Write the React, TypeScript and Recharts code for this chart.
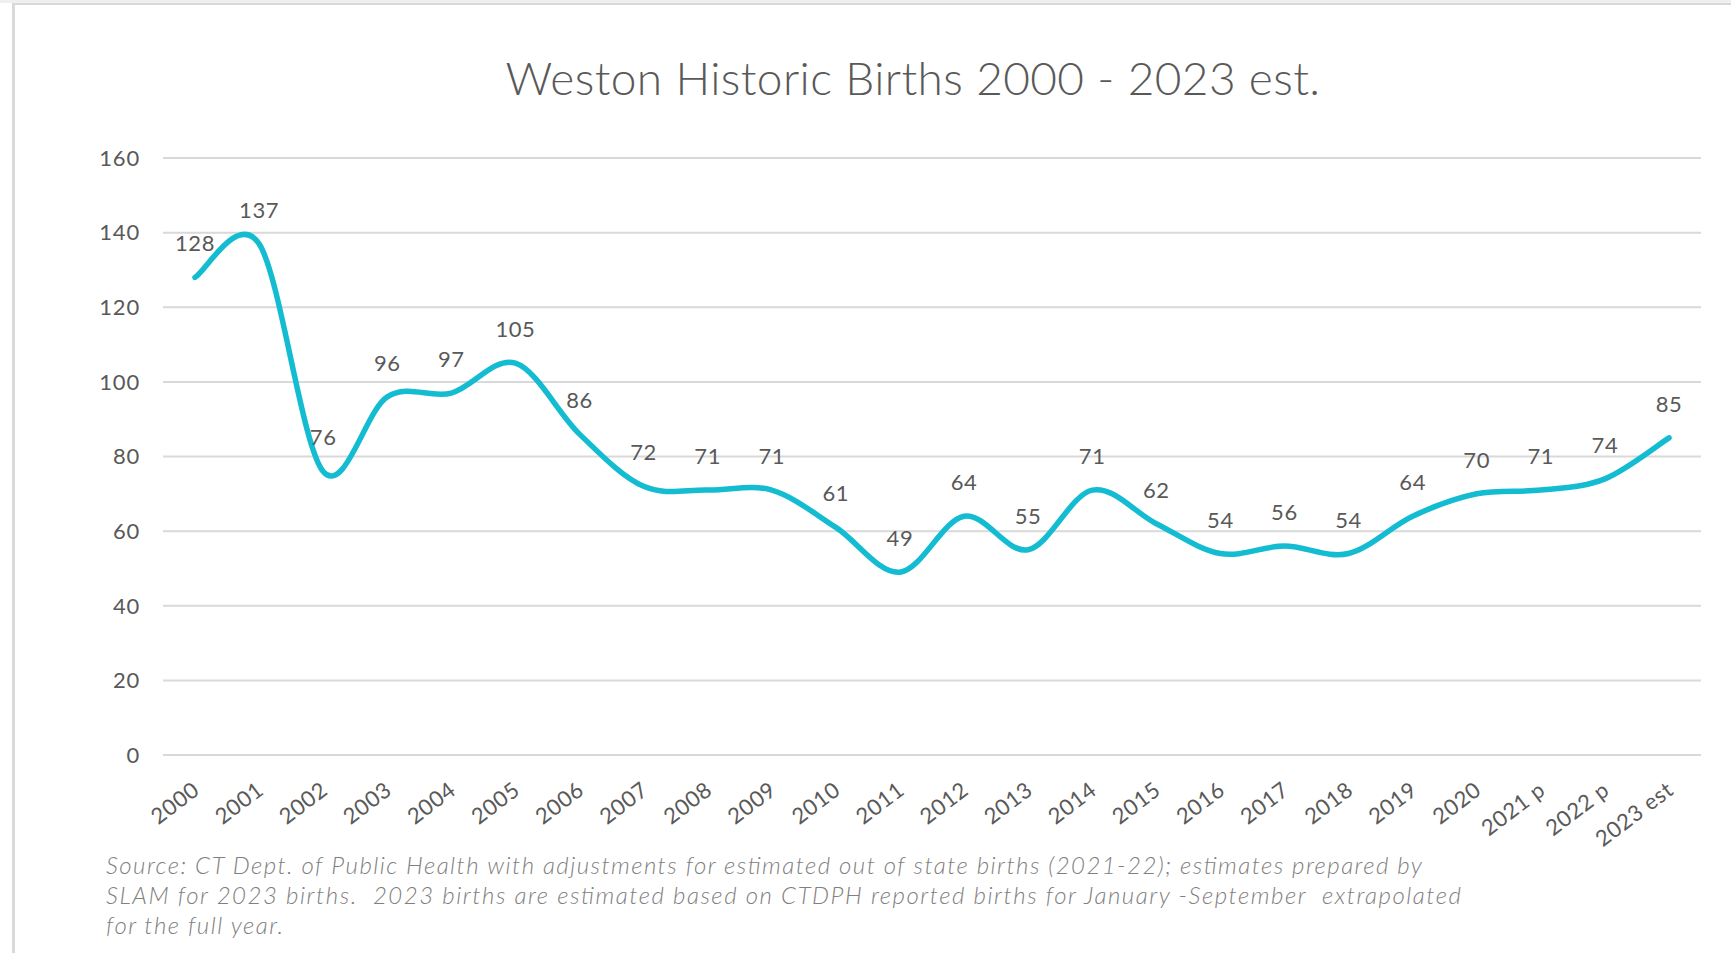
import { LineChart, Line, XAxis, YAxis, CartesianGrid, LabelList } from 'recharts'

const years = [
  '2000', '2001', '2002', '2003', '2004', '2005', '2006', '2007', '2008', '2009', '2010', '2011',
  '2012', '2013', '2014', '2015', '2016', '2017', '2018', '2019', '2020', '2021 p', '2022 p', '2023 est'
]
const births = [128, 137, 76, 96, 97, 105, 86, 72, 71, 71, 61, 49, 64, 55, 71, 62, 54, 56, 54, 64, 70, 71, 74, 85]
const yTicks = [0, 20, 40, 60, 80, 100, 120, 140, 160]

const title = 'Weston Historic Births 2000 - 2023 est.'
const sourceLines = [
  'Source: CT Dept. of Public Health with adjustments for estimated out of state births (2021-22); estimates prepared by',
  'SLAM for 2023 births.  2023 births are estimated based on CTDPH reported births for January -September  extrapolated',
  'for the full year.'
]
const sourceWidths = [1316, 1355, 177]

const data = years.map((year, i) => ({ year, births: births[i] }))

const FONT = 'Lato, "Open Sans", sans-serif'
const TEXT = '#595959'
const CYAN = '#14BCD2'

// excel-like smoothed line: bezier through every point, control points at 1/6 of neighbour span
function smoothCurve(ctx: any) {
  let pts: [number, number][] = []
  return {
    areaStart() {},
    areaEnd() {},
    lineStart() {
      pts = []
    },
    point(x: number, y: number) {
      pts.push([+x, +y])
    },
    lineEnd() {
      if (!pts.length) return
      ctx.moveTo(pts[0][0], pts[0][1])
      for (let i = 0; i < pts.length - 1; i++) {
        const p0 = pts[i - 1] || pts[i]
        const p1 = pts[i]
        const p2 = pts[i + 1]
        const p3 = pts[i + 2] || pts[i + 1]
        ctx.bezierCurveTo(
          p1[0] + (p2[0] - p0[0]) / 6,
          p1[1] + (p2[1] - p0[1]) / 6,
          p2[0] - (p3[0] - p1[0]) / 6,
          p2[1] - (p3[1] - p1[1]) / 6,
          p2[0],
          p2[1]
        )
      }
    }
  }
}

function YearTick({ x, y, payload }: any) {
  return (
    <g transform={`translate(${x + 6},${y + 38})`}>
      <text transform="rotate(-37)" textAnchor="end" fill={TEXT} fontSize={22} fontFamily={FONT} letterSpacing={0.6}>
        {payload.value}
      </text>
    </g>
  )
}

export default function App() {
  return (
    <div style={{ position: 'absolute', left: 0, top: 0, width: 1731, height: 953, background: '#fff', overflow: 'hidden' }}>
      <div style={{ position: 'absolute', left: 0, top: 0, width: 1731, height: 3, background: '#efefef' }} />
      <div
        style={{
          position: 'absolute', left: 12, top: 3, width: 1740, height: 980,
          borderLeft: '3px solid #d9d9d9', borderTop: '2px solid #d9d9d9'
        }}
      />
      <div style={{ position: 'absolute', left: 0, top: 0 }}>
        <LineChart width={1731} height={953} data={data} margin={{ top: 158, right: 30, bottom: 98, left: 103 }}>
          <CartesianGrid vertical={false} stroke="#d9d9d9" strokeWidth={2} />
          <XAxis
            dataKey="year"
            interval={0}
            height={100}
            padding={{ left: 32, right: 32 }}
            axisLine={false}
            tickLine={false}
            tickSize={0}
            tickMargin={0}
            tick={<YearTick />}
          />
          <YAxis
            width={60}
            domain={[0, 160]}
            ticks={yTicks}
            axisLine={false}
            tickLine={false}
            tickSize={0}
            tickMargin={23}
            tick={{ fill: TEXT, fontSize: 22, fontFamily: FONT, letterSpacing: 0.8 }}
          />
          <Line
            dataKey="births"
            type={smoothCurve as any}
            stroke={CYAN}
            strokeWidth={5.5}
            strokeLinecap="round"
            dot={false}
            activeDot={false}
            isAnimationActive={false}
          >
            <LabelList dataKey="births" position="top" offset={26} fill={TEXT} fontSize={22} fontFamily={FONT} letterSpacing={0.6} />
          </Line>
        </LineChart>
      </div>
      <svg width={1731} height={953} style={{ position: 'absolute', left: 0, top: 0, pointerEvents: 'none' }}>
        <text x={913} y={95} textAnchor="middle" fill={TEXT} fontSize={46} fontFamily={FONT} fontWeight={300} letterSpacing={0.4}>
          {title}
        </text>
        {sourceLines.map((line, i) => (
          <text
            key={i}
            x={106}
            y={874 + i * 30}
            fill="#808080"
            fontSize={24}
            fontStyle="italic"
            fontFamily={FONT}
            fontWeight={300}
            textLength={sourceWidths[i]}
            lengthAdjust="spacing"
            style={{ whiteSpace: 'pre' }}
          >
            {line}
          </text>
        ))}
      </svg>
    </div>
  )
}
